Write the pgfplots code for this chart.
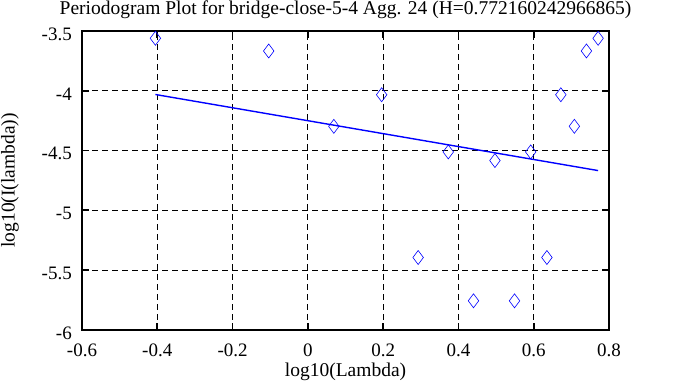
\documentclass[border=0pt]{standalone}
\usepackage{pgfplots}
\pgfplotsset{compat=1.18}
\usepackage{fontspec}
\setmainfont{Liberation Serif}
\begin{document}
\begin{tikzpicture}
\path[use as bounding box] (-82pt,-57pt) rectangle (606pt,330pt);
\begin{axis}[
  at={(0,0)}, anchor=south west,
  scale only axis, width=527pt, height=299pt,
  xmin=-0.6, xmax=0.8, ymin=-6, ymax=-3.5,
  xtick={-0.6,-0.4,...,0.81}, ytick={-6,-5.5,...,-3.4},
  xticklabels={-0.6,-0.4,-0.2,0,0.2,0.4,0.6,0.8},
  yticklabels={-6,-5.5,-5,-4.5,-4,-3.5},
  /pgf/number format/assume math mode=true,
  tick align=inside, major tick length=7pt,
  tick style={black, line width=1.8pt},
  axis line style={line width=2pt},
  grid=major, grid style={black, dashed, dash pattern=on 6pt off 4pt, line width=0.8pt},
  ticklabel style={font=\fontsize{19}{21}\selectfont, inner sep=0pt},
  xticklabel style={anchor=center, yshift=-20pt},
  yticklabel style={anchor=east, xshift=-10pt, yshift=-3pt},
  title={Periodogram Plot for bridge-close-5-4 Agg. 24 (H=0.772160242966865)},
  every axis title shift=0pt,
  title style={font=\fontsize{19.5}{22}\selectfont, at={(axis description cs:0.5,1)}, anchor=base, yshift=16pt, inner sep=0pt},
  xlabel={log10(Lambda)}, ylabel={log10(I(lambda))},
  label style={font=\fontsize{19.5}{21}\selectfont, inner sep=0pt},
  xlabel style={at={(axis description cs:0.5,0)}, anchor=center, yshift=-42pt},
  ylabel style={at={([xshift=-72pt]axis description cs:0,0.5)}, anchor=center},
]
\addplot[only marks, blue, mark=diamond, mark size=7pt, mark options={line width=0.6pt}] coordinates {
(-0.405,-3.561) (-0.104,-3.667) (0.196,-4.033) (0.069,-4.297) (0.373,-4.511)
(0.497,-4.583) (0.592,-4.511) (0.672,-4.033) (0.708,-4.297) (0.740,-3.667)
(0.771,-3.561) (0.293,-5.394) (0.635,-5.394) (0.440,-5.756) (0.549,-5.756)
};
\addplot[blue, line width=1.4pt] coordinates {(-0.405,-4.031) (0.771,-4.667)};
\end{axis}
\end{tikzpicture}
\end{document}
